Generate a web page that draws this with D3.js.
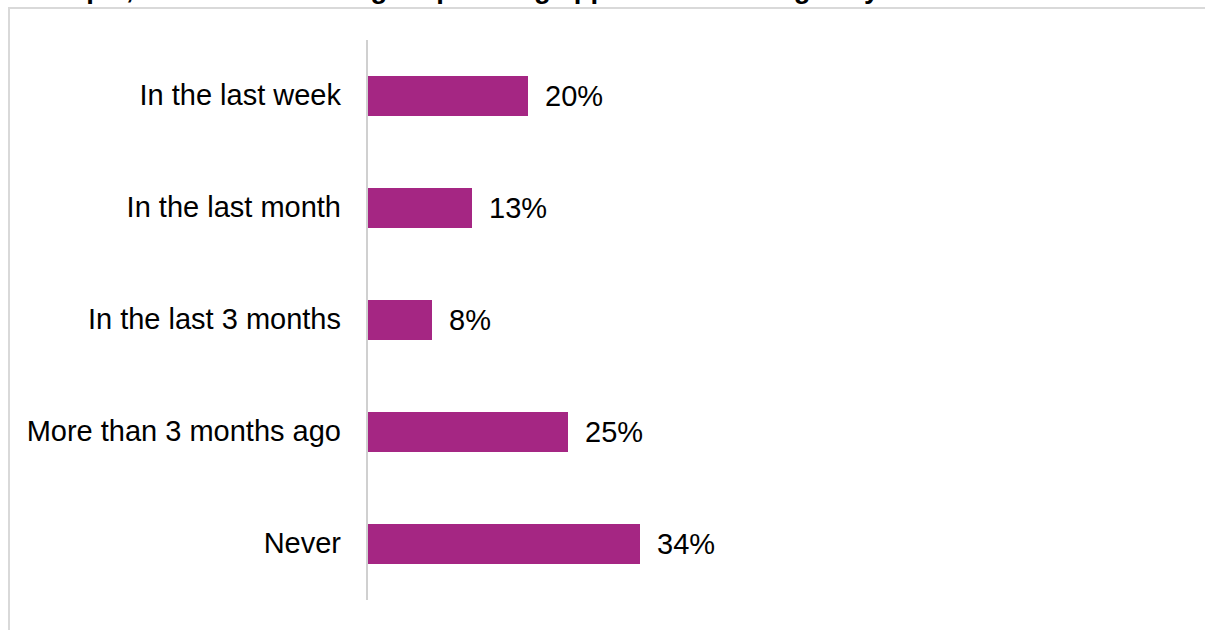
<!DOCTYPE html>
<html><head><meta charset="utf-8">
<script src="https://cdn.jsdelivr.net/npm/d3@7"></script>
<style>body{margin:0;background:#fff}svg{display:block}</style>
</head><body><svg id="c" width="1205" height="630"></svg>
<script>
const categories = ["In the last week","In the last month","In the last 3 months","More than 3 months ago","Never"];
const values = [20, 13, 8, 25, 34];
const valueLabels = ["20%","13%","8%","25%","34%"];
const title = "example, about commenting on planning application or a highways notice";

const svg = d3.select("#c");
const font = "'Liberation Sans', Arial, sans-serif";

svg.append("text").attr("x", 16).attr("y", -2).attr("font-family", font).attr("font-weight", "bold")
  .attr("font-size", 27.5).attr("fill", "#000").text(title);

svg.append("rect").attr("x", 9).attr("y", 8).attr("width", 1210).attr("height", 640)
  .attr("fill", "#fff").attr("stroke", "#d9d9d9").attr("stroke-width", 2);

const x = d3.scaleLinear().domain([0, 10]).range([368, 448]);
const y = d3.scaleBand().domain(categories).range([40, 600]).paddingInner(0.643).paddingOuter(0.3215);

const g = svg.append("g");
g.selectAll("rect.bar").data(categories).join("rect").attr("class","bar")
  .attr("x", x(0)).attr("y", d => y(d)).attr("height", y.bandwidth())
  .attr("width", (d,i) => x(values[i]) - x(0)).attr("fill", "#A52683");

const ax = svg.append("g").attr("transform", `translate(${x(0)-1},0)`).call(d3.axisLeft(y).tickSize(0).tickPadding(26));
ax.select(".domain").attr("stroke", "#d0d0d0").attr("stroke-width", 2).attr("d", "M0,40V600");
ax.selectAll("text").attr("font-family", font).attr("font-size", 29).attr("fill", "#000");

g.selectAll("text.val").data(categories).join("text").attr("class","val")
  .attr("x", (d,i) => x(values[i]) + 17).attr("y", d => y(d) + y.bandwidth()/2)
  .attr("dy", "0.35em").attr("font-family", font).attr("font-size", 29).attr("fill", "#000")
  .text((d,i) => valueLabels[i]);
</script></body></html>
